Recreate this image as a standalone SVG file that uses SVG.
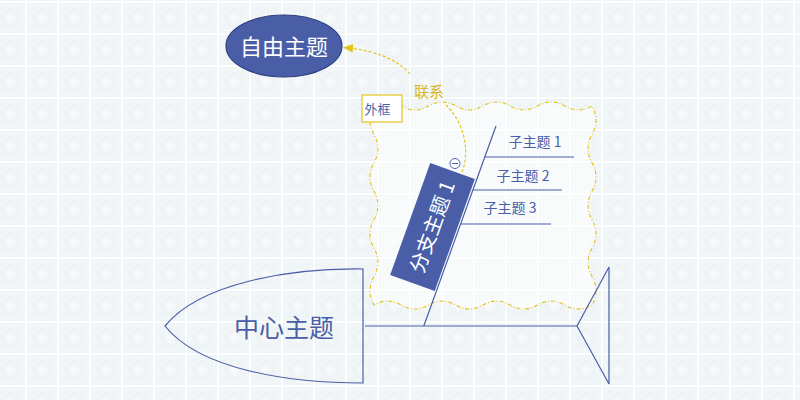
<svg xmlns="http://www.w3.org/2000/svg" width="800" height="400" viewBox="0 0 800 400">
<defs>
<pattern id="tile" x="-5" y="3" width="32" height="32" patternUnits="userSpaceOnUse">
<rect width="32" height="32" fill="#fdfefe"/>
<rect x="0" y="0" width="30" height="30" fill="#eef3f5"/>
<rect x="2.5" y="2.5" width="25" height="25" fill="none" stroke="#f7f9fa" stroke-width="1"/>
<circle cx="15" cy="15" r="10.5" fill="none" stroke="#f7f9fa" stroke-width="1"/>
<path d="M15,7 L17,13 L23,15 L17,17 L15,23 L13,17 L7,15 L13,13 Z" fill="#f7f9fa"/>
<path d="M10,10 L13,13 M20,10 L17,13 M10,20 L13,17 M20,20 L17,17" stroke="#f7f9fa" stroke-width="1.6"/>
</pattern>
<marker id="arrow" viewBox="0 0 10 10" refX="9" refY="5" markerWidth="10" markerHeight="10" markerUnits="userSpaceOnUse" orient="auto">
<path d="M0,0.5 L10,5 L0,9.5 Z" fill="#e3c21c"/>
</marker>
<style>
.blue{stroke:#4a5ea8;stroke-width:1.2;fill:none}
.rel{stroke:#e3c21c;stroke-width:1.2;fill:none;stroke-dasharray:3 2}
.txt{font-family:"Noto Sans CJK SC","Noto Sans",sans-serif;fill:#4a5ea8}
.wt{font-family:"Noto Sans CJK SC","Noto Sans",sans-serif;fill:#ffffff}
</style>
</defs>
<rect width="800" height="400" fill="url(#tile)"/>

<g id="boundary">
<path d="M374,106 q13.6,-8 27.25,0 t27.25,0 t27.25,0 t27.25,0 t27.25,0 t27.25,0 t27.25,0 t27.25,0
 q8,14.2 0,28.43 t0,28.43 t0,28.43 t0,28.43 t0,28.43 t0,28.43 t0,28.43
 q-13.6,8 -27.25,0 t-27.25,0 t-27.25,0 t-27.25,0 t-27.25,0 t-27.25,0 t-27.25,0 t-27.25,0
 q-8,-14.2 0,-28.43 t0,-28.43 t0,-28.43 t0,-28.43 t0,-28.43 t0,-28.43 t0,-28.43 Z" fill="#ffffff" fill-opacity="0.55" stroke="#e3c21c" stroke-width="1.1" stroke-dasharray="4 2 1 2"/>
<g id="boundary-label">
<rect x="362" y="95" width="40" height="27" fill="#ffffff" stroke="#e6c730" stroke-width="1.3"/>
<text x="364.5" y="113.5" class="txt" font-size="13">外框</text>
</g>
</g>

<g id="connectors">
<line x1="365" y1="326" x2="577" y2="326" class="blue"/>
<path d="M577,326 L609,267 L609,384 Z" class="blue" stroke-linejoin="miter"/>
<line x1="423.8" y1="326" x2="496" y2="126" class="blue"/>
<line x1="484.8" y1="157" x2="574" y2="157" class="blue"/>
<line x1="472.9" y1="190" x2="562" y2="190" class="blue"/>
<line x1="460.6" y1="224" x2="551" y2="224" class="blue"/>
</g>

<g id="central">
<path d="M363,269 L363,383 C290,383 200,370 165,326 C200,283 290,268 363,269 Z" class="blue"/>
<text x="284" y="337" class="txt" font-size="25" text-anchor="middle">中心主题</text>
</g>

<g id="branch1">
<g transform="translate(432.5,227) rotate(-70.3)">
<rect x="-59.5" y="-23.7" width="119" height="47.4" fill="#4a5ea8"/>
<text x="0" y="7" class="wt" font-size="20" text-anchor="middle">分支主题 1</text>
</g>
<circle cx="455" cy="163.5" r="5" fill="#ffffff" stroke="#4a5ea8" stroke-width="1"/>
<line x1="452" y1="163.5" x2="458" y2="163.5" stroke="#4a5ea8" stroke-width="1"/>
</g>

<g id="sub1"><text x="535" y="147" class="txt" font-size="14" text-anchor="middle">子主题 1</text></g>
<g id="sub2"><text x="523" y="181" class="txt" font-size="14" text-anchor="middle">子主题 2</text></g>
<g id="sub3"><text x="510" y="213" class="txt" font-size="14" text-anchor="middle">子主题 3</text></g>

<g id="free">
<ellipse cx="284" cy="46" rx="58" ry="31" fill="#4a5ea8" stroke="#2d3f80" stroke-width="1.2"/>
<text x="284" y="54.5" class="wt" font-size="22" text-anchor="middle">自由主题</text>
</g>

<g id="relationship">
<path d="M462,172 C468,158 469,128 446,105" class="rel"/>
<path d="M410,74 C396,58 372,50 344,47.5" class="rel" marker-end="url(#arrow)"/>
<text x="429" y="97" font-family="Noto Sans CJK SC, sans-serif" font-size="15" fill="#d8b61c" text-anchor="middle">联系</text>
</g>
</svg>
